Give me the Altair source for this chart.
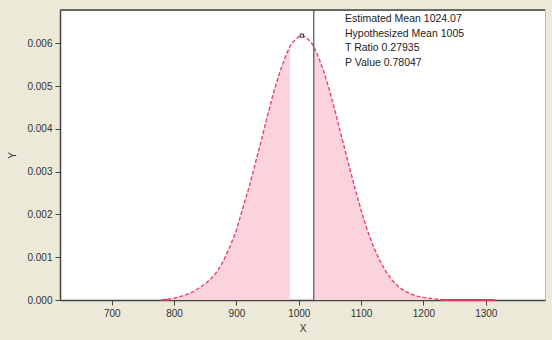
import altair as alt
import pandas as pd

# Density curve
xs = [780, 790, 800, 810, 820, 830, 840, 850, 860, 870, 880, 890, 900, 910, 920,
      930, 940, 950, 960, 970, 980, 985.93, 990, 1000, 1005, 1010, 1020, 1024.07, 1030,
      1040, 1050, 1060, 1070, 1080, 1090, 1100, 1110, 1120, 1130, 1140, 1150,
      1160, 1170, 1180, 1190, 1200, 1210, 1220, 1230]
ys = [0.00000, 0.00002, 0.00004, 0.00008, 0.00013, 0.00019, 0.00028, 0.00038,
      0.00051, 0.00068, 0.00094, 0.00126, 0.00163, 0.00214, 0.00262, 0.00318,
      0.00374, 0.00432, 0.00487, 0.00535, 0.00574, 0.00593, 0.00602, 0.00616,
      0.00618, 0.00616, 0.00602, 0.00592, 0.00574, 0.00535, 0.00487, 0.00432,
      0.00374, 0.00318, 0.00262, 0.00210, 0.00163, 0.00124, 0.00092, 0.00066,
      0.00046, 0.00031, 0.00021, 0.00014, 0.00009, 0.00006, 0.00004, 0.00002,
      0.00001]

estimated_mean = 1024.07
hypothesized_mean = 1005
low_cut = 985.93
peak_x = [1005]
peak_y = [0.00618]
tail_left_x = [782, 793]
tail_right_x = [1228, 1315]
x_ticks = [700, 800, 900, 1000, 1100, 1200, 1300]
y_ticks = [0.000, 0.001, 0.002, 0.003, 0.004, 0.005, 0.006]
labels = ["Estimated Mean 1024.07", "Hypothesized Mean 1005",
          "T Ratio 0.27935", "P Value 0.78047"]

W, H = 485, 290
FONT = "Liberation Sans"

df = pd.DataFrame({"x": xs, "y": ys})
left = df[df.x <= low_cut]
right = df[df.x >= estimated_mean]

xscale = alt.Scale(domain=[617, 1395], nice=False, zero=False)
yscale = alt.Scale(domain=[0, 0.00678], nice=False)

X = alt.X("x:Q", scale=xscale, title="X",
          axis=alt.Axis(values=x_ticks, format="d", grid=False, tickSize=5,
                        labelPadding=3, titlePadding=5, domainColor="#444",
                        domainWidth=1.5, tickColor="#444", labelColor="#333",
                        titleColor="#333", labelFontSize=10, titleFontSize=10,
                        titleFontWeight="normal", labelFont=FONT, titleFont=FONT))
Y = alt.Y("y:Q", scale=yscale, title="Y",
          axis=alt.Axis(values=y_ticks, format=".3f", grid=False, tickSize=5,
                        labelPadding=3, domainColor="#444", domainWidth=1.5,
                        tickColor="#444", labelColor="#333", titleColor="#333",
                        labelFontSize=10, titleFontSize=10, titleFontWeight="normal",
                        labelFont=FONT, titleFont=FONT, titleX=-43, titleY=145))

area_l = alt.Chart(left).mark_area(color="#FBD3DC", opacity=1).encode(x=X, y=Y)
area_r = alt.Chart(right).mark_area(color="#FBD3DC", opacity=1).encode(x="x:Q", y="y:Q")
line = alt.Chart(df).mark_line(color="#E8456A", strokeWidth=1.4,
                               strokeDash=[4, 2]).encode(x="x:Q", y="y:Q")

tails = pd.DataFrame({"x": tail_left_x + tail_right_x, "y": [0, 0, 0, 0],
                      "g": ["a", "a", "b", "b"]})
tail = alt.Chart(tails).mark_line(color="#D63C5C", strokeWidth=2).encode(
    x="x:Q", y="y:Q", detail="g:N")

vrule = alt.Chart(pd.DataFrame({"x": [estimated_mean]})).mark_rule(
    color="#555", strokeWidth=1.2).encode(x="x:Q", y=alt.value(0), y2=alt.value(H))

peak = alt.Chart(pd.DataFrame({"x": peak_x, "y": peak_y})).mark_point(
    shape="square", size=10, filled=False, fill="white", color="#111",
    strokeWidth=1.2).encode(x="x:Q", y="y:Q")

top = alt.Chart(pd.DataFrame({"a": [0]})).mark_rule(color="#444", strokeWidth=1.5).encode(
    x=alt.value(0), x2=alt.value(W), y=alt.value(0))

texts = []
for i, lab in enumerate(labels):
    texts.append(
        alt.Chart(pd.DataFrame({"t": [lab]})).mark_text(
            align="left", baseline="middle", font=FONT, fontSize=10.5, color="#222"
        ).encode(x=alt.value(285), y=alt.value(9 + 14.5 * i), text="t:N"))

chart = alt.layer(area_l, area_r, line, tail, vrule, peak, top, *texts).properties(
    width=W, height=H,
    autosize=alt.AutoSizeParams(type="none"),
    padding={"left": 60, "top": 10, "right": 7, "bottom": 40},
    background="#ECE9D8",
).configure_view(fill="white", stroke="#BBBBBB", strokeWidth=1)

chart.save("out.html", embed_options={"renderer": "svg", "actions": False})
